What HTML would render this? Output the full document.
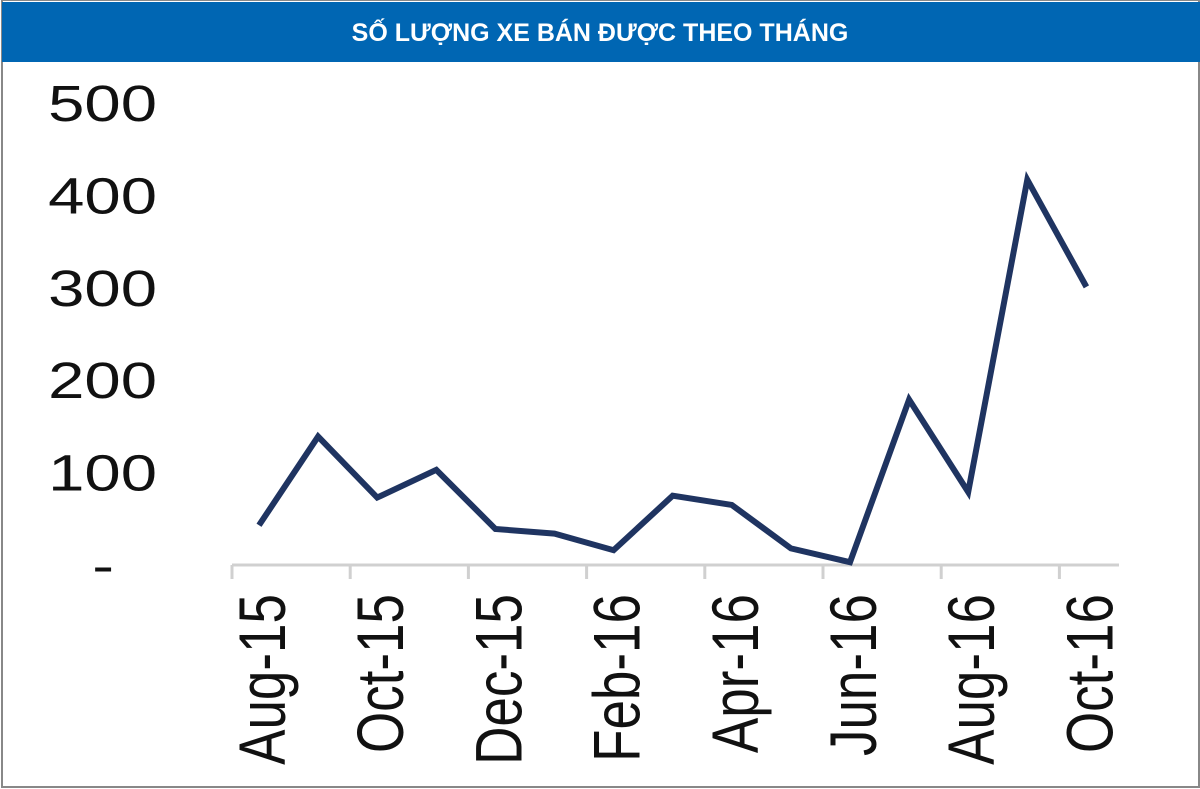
<!DOCTYPE html>
<html><head><meta charset="utf-8"><style>
html,body{margin:0;padding:0;background:#fff;}
#wrap{position:relative;width:1200px;height:789px;overflow:hidden;}
</style></head><body>
<div id="wrap">
<svg id="chart" width="1200" height="789">
  <rect x="2" y="0" width="1197" height="787" fill="#fff" stroke="#888" stroke-width="2"/>
  <rect x="2" y="2" width="1198" height="60" fill="#0066b3"/>
  <text x="600" y="41" text-anchor="middle" fill="#fff" font-family="'Liberation Sans Narrow','Liberation Sans',sans-serif" font-weight="bold" font-size="25">SỐ LƯỢNG XE BÁN ĐƯỢC THEO THÁNG</text>
  <g id="yaxis"></g><g id="xaxis"></g><g id="series"></g>
</svg>
</div>
<script>
const months = ["Aug-15","Sep-15","Oct-15","Nov-15","Dec-15","Jan-16","Feb-16","Mar-16","Apr-16","May-16","Jun-16","Jul-16","Aug-16","Sep-16","Oct-16"];
const sales = [43,139,73,103,39,34,16,75,65,18,3,179,79,417,301];
const yTicks = [0,100,200,300,400,500];
const yTickLabels = ["-","100","200","300","400","500"];
const xLabelMonths = ["Aug-15","Oct-15","Dec-15","Feb-16","Apr-16","Jun-16","Aug-16","Oct-16"];

const NS="http://www.w3.org/2000/svg";
const y0=565, pxPer=0.924;
function yS(v){return y0 - v*pxPer;}
function xS(i){return 259 + i*59.1;}
function mk(t,a,p){const e=document.createElementNS(NS,t);for(const k in a)e.setAttribute(k,a[k]);p.appendChild(e);return e;}

const ya=document.getElementById('yaxis');
yTicks.forEach((v,i)=>{
  const zero=(v===0);
  const t=mk('text',{x:0,y:0,'text-anchor':'end','font-family':'Liberation Sans, sans-serif','font-size':51,fill:'#111',
    transform:`translate(${zero?114:157},${yS(v)+(zero?18:18)}) scale(1.28,1)`},ya);
  
  
  t.textContent=yTickLabels[i];
});

const xa=document.getElementById('xaxis');
const ax=mk('line',{x1:232,y1:565,x2:1119,y2:565,stroke:'#d0d0d0','stroke-width':3},xa);


for(let k=0;k<8;k++){
  const tx=232+k*118.2;
  const tk=mk('line',{x1:tx,y1:565,x2:tx,y2:579,stroke:'#d0d0d0','stroke-width':3},xa);
  
  
}
xLabelMonths.forEach(m=>{
  const i=months.indexOf(m);
  const cx=xS(i)+26;
  const t=mk('text',{x:0,y:0,'text-anchor':'end','font-family':'Liberation Sans, sans-serif','font-size':53,fill:'#111',
    transform:`translate(${cx},594) rotate(-90) scale(1,1.25)`},xa);
  
  
  t.textContent=m;
});

const sg=document.getElementById('series');
const pts=sales.map((v,i)=>xS(i)+','+yS(v)).join(' ');
const pl=mk('polyline',{points:pts,fill:'none',stroke:'#1f3461','stroke-width':6,'stroke-linejoin':'miter'},sg);


</script>
</body></html>
